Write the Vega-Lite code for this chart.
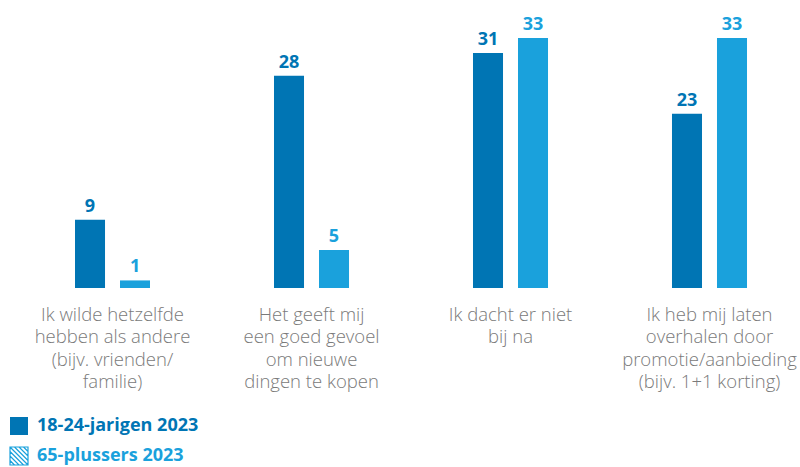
{
  "$schema": "https://vega.github.io/schema/vega-lite/v6.json",
  "width": 800,
  "height": 288,
  "padding": 0,
  "background": "white",
  "config": {"view": {"stroke": null}, "font": "Open Sans"},
  "data": {"values": [
    {"reden": "Ik wilde hetzelfde|hebben als andere|(bijv. vrienden/|familie)", "groep": "18-24-jarigen 2023", "waarde": 9},
    {"reden": "Ik wilde hetzelfde|hebben als andere|(bijv. vrienden/|familie)", "groep": "65-plussers 2023", "waarde": 1},
    {"reden": "Het geeft mij|een goed gevoel|om nieuwe|dingen te kopen", "groep": "18-24-jarigen 2023", "waarde": 28},
    {"reden": "Het geeft mij|een goed gevoel|om nieuwe|dingen te kopen", "groep": "65-plussers 2023", "waarde": 5},
    {"reden": "Ik dacht er niet|bij na", "groep": "18-24-jarigen 2023", "waarde": 31},
    {"reden": "Ik dacht er niet|bij na", "groep": "65-plussers 2023", "waarde": 33},
    {"reden": "Ik heb mij laten|overhalen door|promotie/aanbieding|(bijv. 1+1 korting)", "groep": "18-24-jarigen 2023", "waarde": 23},
    {"reden": "Ik heb mij laten|overhalen door|promotie/aanbieding|(bijv. 1+1 korting)", "groep": "65-plussers 2023", "waarde": 33}
  ]},
  "encoding": {
    "x": {
      "field": "reden", "type": "nominal", "sort": null,
      "scale": {"paddingInner": 0.623, "paddingOuter": 0.3216, "align": 0.586},
      "axis": {
        "title": null, "domain": false, "ticks": false, "labelAngle": 0,
        "labelExpr": "split(datum.label, '|')",
        "labelFont": "Open Sans", "labelFontSize": 18.5, "labelFontWeight": 300, "labelColor": "#7a7a7a",
        "labelLineHeight": 22.5, "labelPadding": 17, "labelBaseline": "top",
        "labelLimit": 0
      }
    },
    "xOffset": {"field": "groep", "type": "nominal", "scale": {"paddingInner": 0.333, "paddingOuter": 0}},
    "y": {"field": "waarde", "type": "quantitative", "scale": {"domain": [0, 38]}, "axis": null}
  },
  "layer": [
    {
      "mark": {"type": "bar", "opacity": 1},
      "encoding": {
        "color": {
          "field": "groep", "type": "nominal",
          "scale": {"domain": ["18-24-jarigen 2023", "65-plussers 2023"], "range": ["#0075b4", "#1aa1dc"]},
          "legend": {
            "title": null, "orient": "none", "legendX": 9, "legendY": 416,
            "values": ["18-24-jarigen 2023"],
            "symbolType": "square", "symbolSize": 324, "symbolOpacity": 1,
            "labelFont": "Open Sans", "labelFontSize": 18, "labelFontWeight": "bold",
            "labelColor": "#0075b4", "labelOffset": 8, "labelLimit": 0
          }
        }
      }
    },
    {
      "transform": [{"filter": "datum.groep === '65-plussers 2023'"}],
      "mark": {"type": "point", "filled": false, "size": 0, "shape": "M-1,-1H1V1H-1Z M-1,-1L1,1 M-0.5,-1L1,0.5 M0,-1L1,0 M0.5,-1L1,-0.5 M-1,-0.5L0.5,1 M-1,0L0,1 M-1,0.5L-0.5,1"},
      "encoding": {
        "stroke": {
          "field": "groep", "type": "nominal",
          "scale": {"domain": ["65-plussers 2023"], "range": ["#1aa1dc"]},
          "legend": {
            "title": null, "orient": "none", "legendX": 9, "legendY": 446,
            "symbolType": "M-1,-1H1V1H-1Z M-1,-1L1,1 M-0.5,-1L1,0.5 M0,-1L1,0 M0.5,-1L1,-0.5 M-1,-0.5L0.5,1 M-1,0L0,1 M-1,0.5L-0.5,1",
            "symbolSize": 324, "symbolOpacity": 1, "symbolStrokeWidth": 1.2, "symbolFillColor": "transparent",
            "labelFont": "Open Sans", "labelFontSize": 18, "labelFontWeight": "bold",
            "labelColor": "#1aa1dc", "labelOffset": 8, "labelLimit": 0
          }
        }
      }
    },
    {
      "mark": {"type": "text", "baseline": "bottom", "dy": -4, "fontSize": 18, "fontWeight": "bold", "font": "Open Sans"},
      "encoding": {
        "text": {"field": "waarde", "type": "quantitative"},
        "color": {"field": "groep", "type": "nominal", "legend": null}
      }
    }
  ]
}
